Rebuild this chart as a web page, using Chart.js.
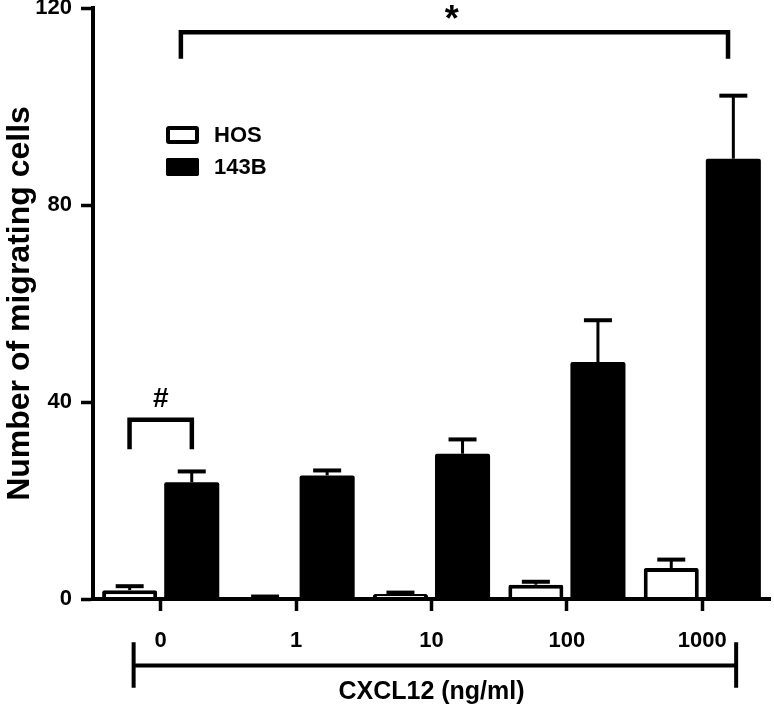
<!DOCTYPE html>
<html><head><meta charset="utf-8">
<script src="https://cdn.jsdelivr.net/npm/chart.js@4.4.1/dist/chart.umd.min.js"></script>
<style>html,body{margin:0;padding:0;background:#fff;} #wrap{width:774px;height:718px;position:relative;}</style>
</head><body><div id="wrap"><canvas id="c" width="774" height="718"></canvas></div>
<script>
// ---- data ----
const categories = ['0', '1', '10', '100', '1000'];
const seriesNames = ['HOS', '143B'];
const hosValues = [1.8, 0.4, 1.0, 2.9, 6.3];
const hosErrors = [0.8, 0.1, 0.3, 0.6, 1.7];
const b143Values = [23.7, 25.1, 29.5, 48.1, 89.4];
const b143Errors = [2.2, 1.0, 2.9, 8.5, 12.8];
const yTickValues = [0, 40, 80, 120];
const xAxisTitle = 'CXCL12 (ng/ml)';
const yAxisTitle = 'Number of migrating cells';

// ---- annotation geometry (category index, data value) ----
const sigBrackets = [
  { pts: [[0.149, 109.7], [0.149, 115.1], [4.19, 115.1], [4.19, 109.7]], text: '*', at: [2.15, 115.4], size: 36 },
  { pts: [[-0.23, 30.4], [-0.23, 36.4], [0.23, 36.4], [0.23, 30.4]], text: '#', at: [0, 39.0], size: 28 }
];
const rangeBracket = { x0: -0.2, x1: 4.25, y: -13.5, yTop: -8.8, yBot: -18.0 };

const FONT = '"Liberation Sans", Arial, sans-serif';
Chart.defaults.font.family = FONT;
Chart.defaults.color = '#000';

const errorBarPlugin = {
  id: 'errorBars',
  afterDatasetsDraw(chart) {
    const ctx = chart.ctx, ys = chart.scales.y;
    ctx.save();
    ctx.strokeStyle = '#000';
    chart.data.datasets.forEach((ds, di) => {
      const meta = chart.getDatasetMeta(di);
      meta.data.forEach((el, i) => {
        const err = ds.errorValues[i];
        const top = ys.getPixelForValue(ds.data[i] + err);
        ctx.lineWidth = 3;
        ctx.beginPath(); ctx.moveTo(el.x, el.y); ctx.lineTo(el.x, top); ctx.stroke();
        ctx.lineWidth = 4;
        ctx.beginPath(); ctx.moveTo(el.x - 14, top); ctx.lineTo(el.x + 14, top); ctx.stroke();
      });
    });
    ctx.restore();
  }
};

const annotPlugin = {
  id: 'annots',
  afterDraw(chart) {
    const ctx = chart.ctx, xs = chart.scales.x, ys = chart.scales.y;
    const px = v => xs.getPixelForValue(v), py = v => ys.getPixelForValue(v);
    ctx.save();
    ctx.strokeStyle = '#000'; ctx.fillStyle = '#000';
    ctx.lineJoin = 'miter'; ctx.lineCap = 'butt';
    sigBrackets.forEach(b => {
      ctx.lineWidth = 4.5;
      ctx.beginPath();
      b.pts.forEach((p, k) => { const X = px(p[0]), Y = py(p[1]); if (k) ctx.lineTo(X, Y); else ctx.moveTo(X, Y); });
      ctx.stroke();
      ctx.font = 'bold ' + b.size + 'px ' + FONT;
      ctx.textAlign = 'center'; ctx.textBaseline = 'alphabetic';
      ctx.fillText(b.text, px(b.at[0]), py(b.at[1]));
    });
    // CXCL12 range bracket under the axis
    ctx.lineWidth = 4;
    ctx.beginPath();
    ctx.moveTo(px(rangeBracket.x0), py(rangeBracket.y)); ctx.lineTo(px(rangeBracket.x1), py(rangeBracket.y));
    ctx.moveTo(px(rangeBracket.x0), py(rangeBracket.yTop)); ctx.lineTo(px(rangeBracket.x0), py(rangeBracket.yBot));
    ctx.moveTo(px(rangeBracket.x1), py(rangeBracket.yTop)); ctx.lineTo(px(rangeBracket.x1), py(rangeBracket.yBot));
    ctx.stroke();
    ctx.restore();
  }
};

const legendPlugin = {
  id: 'boxLegend',
  afterDraw(chart) {
    const ctx = chart.ctx, a = chart.chartArea;
    ctx.save();
    const x = a.left + 73, y0 = a.top + 118, rowH = 32, w = 33, h = 18;
    chart.data.datasets.forEach((ds, i) => {
      const y = y0 + i * rowH;
      ctx.fillStyle = ds.backgroundColor;
      ctx.beginPath(); ctx.roundRect(x, y, w, h, 2); ctx.fill();
      ctx.strokeStyle = '#000'; ctx.lineWidth = 4;
      ctx.beginPath(); ctx.roundRect(x + 2, y + 2, w - 4, h - 4, 1); ctx.stroke();
      ctx.fillStyle = '#000';
      ctx.font = 'bold 22px ' + FONT;
      ctx.textAlign = 'left'; ctx.textBaseline = 'middle';
      ctx.fillText(ds.label, x + 48, y + h / 2 + 1);
    });
    ctx.restore();
  }
};

new Chart(document.getElementById('c'), {
  type: 'bar',
  data: {
    labels: categories,
    datasets: [
      { label: seriesNames[0], data: hosValues, errorValues: hosErrors, backgroundColor: '#ffffff', borderColor: '#000000', borderWidth: 4, borderRadius: 2 },
      { label: seriesNames[1], data: b143Values, errorValues: b143Errors, backgroundColor: '#000000', borderColor: '#000000', borderWidth: 0, borderRadius: 2 }
    ]
  },
  options: {
    responsive: false,
    devicePixelRatio: 1,
    animation: false,
    categoryPercentage: 0.917,
    barPercentage: 0.887,
    layout: { padding: { left: 0, right: 4, top: 8, bottom: 0 } },
    plugins: { legend: { display: false }, tooltip: { enabled: false } },
    scales: {
      x: {
        grid: { display: true, offset: false, drawOnChartArea: false, drawTicks: true, tickLength: 12, tickWidth: 3.5, tickColor: '#000' },
        border: { display: true, color: '#000', width: 4, z: 1 },
        ticks: { font: { size: 22, weight: 'bold' }, color: '#000', padding: 17, maxRotation: 0 },
        title: { display: true, text: xAxisTitle, font: { size: 25, weight: 'bold' }, color: '#000', padding: { top: 0, bottom: 11 } },
        afterFit(s) { s.height = 119; s.paddingLeft = 0; s.paddingRight = 0; }
      },
      y: {
        min: 0, max: 120,
        grid: { display: true, drawOnChartArea: false, drawTicks: true, tickLength: 12, tickWidth: 3.5, tickColor: '#000' },
        border: { display: true, color: '#000', width: 4, z: 1 },
        ticks: { font: { size: 22, weight: 'bold' }, color: '#000', padding: 9 },
        afterBuildTicks(s) { s.ticks = yTickValues.map(v => ({ value: v })); },
        title: { display: true, text: yAxisTitle, font: { size: 32, weight: 'bold' }, color: '#000', padding: { top: 1, bottom: 0 } },
        afterFit(s) { s.width = 93; s.paddingTop = 0; s.paddingBottom = 0; }
      }
    }
  },
  plugins: [errorBarPlugin, annotPlugin, legendPlugin]
});
</script></body></html>
